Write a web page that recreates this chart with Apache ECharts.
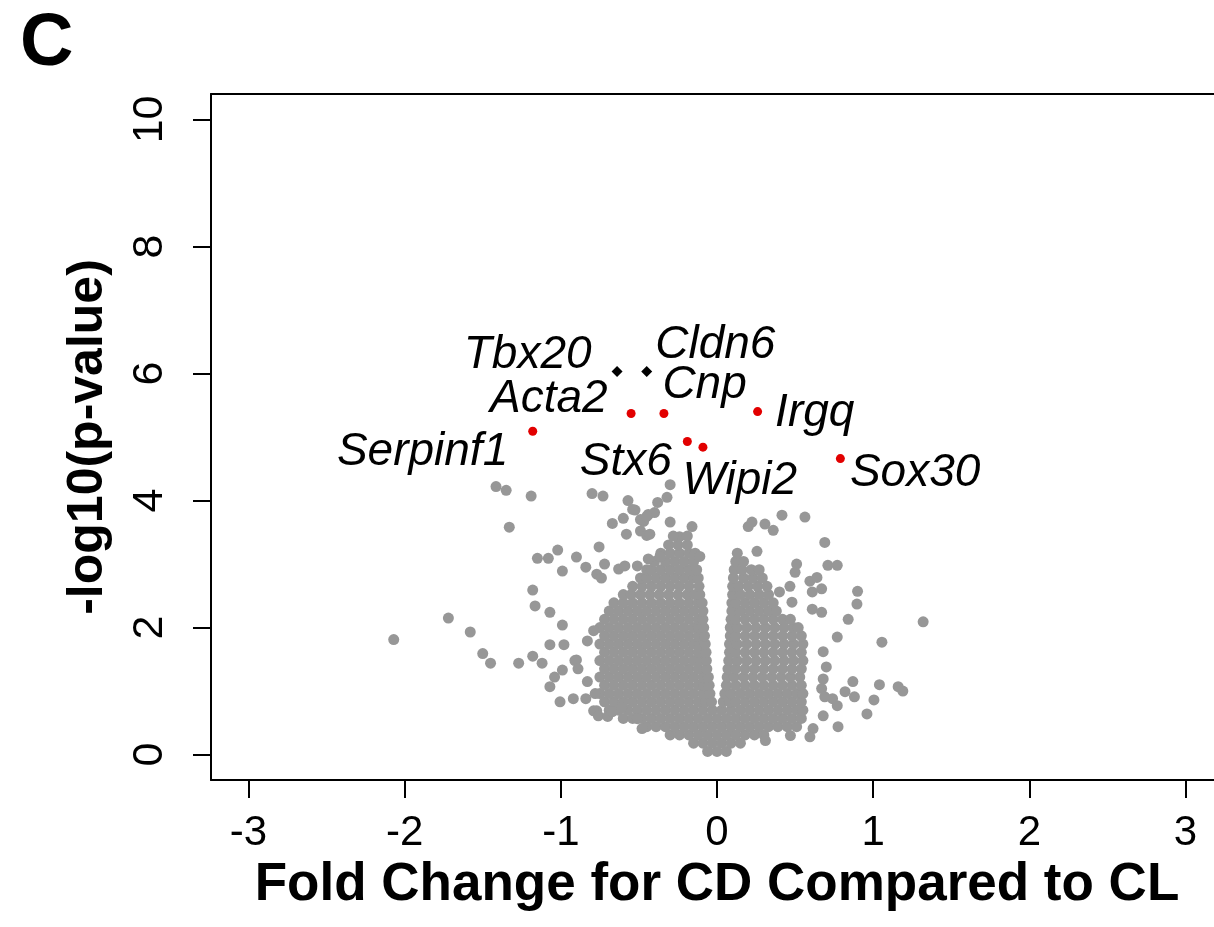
<!DOCTYPE html>
<html>
<head>
<meta charset="utf-8">
<script src="https://cdn.jsdelivr.net/npm/echarts@6/dist/echarts.min.js"></script>
<style>
html,body{margin:0;padding:0;background:#fff;overflow:hidden;}
#chart{width:1214px;height:927px;}
</style>
</head>
<body>
<div id="chart"></div>
<script>
// ---- tick labels ----
const xTicks = [-3, -2, -1, 0, 1, 2, 3];
const yTicks = [0, 2, 4, 6, 8, 10];

// ---- dense core of the volcano (rows: [-log10 p, [fold changes]]) ----
const coreRows = [
  [0.05, [-0.06, 0, 0.06]],
  [0.18, [-0.15, -0.09, -0.03, 0.03, 0.09, 0.15]],
  [0.31, [-0.30, -0.24, -0.18, -0.12, -0.06, 0, 0.06, 0.12, 0.18, 0.24, 0.30]],
  [0.44, [-0.45, -0.39, -0.33, -0.27, -0.21, -0.15, -0.09, -0.03, 0.03, 0.09, 0.15, 0.21, 0.27, 0.33, 0.39, 0.45, 0.51]],
  [0.57, [-0.60, -0.54, -0.48, -0.42, -0.36, -0.30, -0.24, -0.18, -0.12, -0.06, 0, 0.06, 0.12, 0.18, 0.24, 0.30, 0.36, 0.42, 0.48, 0.54]],
  [0.70, [-0.69, -0.63, -0.57, -0.51, -0.45, -0.39, -0.33, -0.27, -0.21, -0.15, -0.09, -0.03, 0.03, 0.09, 0.15, 0.21, 0.27, 0.33, 0.39, 0.45, 0.51, 0.55]],
  [0.83, [-0.72, -0.66, -0.60, -0.54, -0.48, -0.42, -0.36, -0.30, -0.24, -0.18, -0.12, -0.07, -0.035, 0.04, 0.08, 0.12, 0.18, 0.24, 0.30, 0.36, 0.42, 0.48, 0.54]],
  [0.96, [-0.75, -0.69, -0.63, -0.57, -0.51, -0.45, -0.39, -0.33, -0.27, -0.21, -0.15, -0.09, -0.045, 0.05, 0.09, 0.15, 0.21, 0.27, 0.33, 0.39, 0.45, 0.51, 0.55]],
  [1.09, [-0.72, -0.66, -0.60, -0.54, -0.48, -0.42, -0.36, -0.30, -0.24, -0.18, -0.12, -0.085, -0.05, 0.06, 0.12, 0.18, 0.24, 0.30, 0.36, 0.42, 0.48, 0.54]],
  [1.22, [-0.75, -0.69, -0.63, -0.57, -0.51, -0.45, -0.39, -0.33, -0.27, -0.21, -0.15, -0.09, -0.055, 0.065, 0.11, 0.17, 0.23, 0.29, 0.35, 0.41, 0.47, 0.53]],
  [1.35, [-0.72, -0.66, -0.60, -0.54, -0.48, -0.42, -0.36, -0.30, -0.24, -0.18, -0.12, -0.065, 0.07, 0.12, 0.18, 0.24, 0.30, 0.36, 0.42, 0.48, 0.54]],
  [1.48, [-0.75, -0.69, -0.63, -0.57, -0.51, -0.45, -0.39, -0.33, -0.27, -0.21, -0.15, -0.105, -0.068, 0.075, 0.13, 0.19, 0.25, 0.31, 0.37, 0.43, 0.49, 0.55]],
  [1.61, [-0.72, -0.66, -0.60, -0.54, -0.48, -0.42, -0.36, -0.30, -0.24, -0.18, -0.12, -0.07, 0.08, 0.12, 0.18, 0.24, 0.30, 0.36, 0.42, 0.48, 0.54]],
  [1.74, [-0.75, -0.69, -0.63, -0.57, -0.51, -0.45, -0.39, -0.33, -0.27, -0.21, -0.15, -0.11, -0.075, 0.08, 0.13, 0.19, 0.25, 0.31, 0.37, 0.43, 0.49, 0.55]],
  [1.87, [-0.72, -0.66, -0.60, -0.54, -0.48, -0.42, -0.36, -0.30, -0.24, -0.18, -0.12, -0.08, 0.085, 0.12, 0.18, 0.24, 0.30, 0.36, 0.42, 0.48, 0.54]],
  [2.00, [-0.75, -0.69, -0.63, -0.57, -0.51, -0.45, -0.39, -0.33, -0.27, -0.21, -0.15, -0.12, -0.085, 0.085, 0.13, 0.19, 0.25, 0.31, 0.37, 0.43, 0.49, 0.52]],
  [2.13, [-0.72, -0.66, -0.60, -0.54, -0.48, -0.42, -0.36, -0.30, -0.24, -0.18, -0.12, -0.09, 0.09, 0.12, 0.18, 0.24, 0.30, 0.36, 0.42, 0.47]],
  [2.26, [-0.69, -0.63, -0.57, -0.51, -0.45, -0.39, -0.33, -0.27, -0.21, -0.15, -0.09, 0.095, 0.15, 0.21, 0.27, 0.33, 0.38]],
  [2.39, [-0.66, -0.60, -0.54, -0.48, -0.42, -0.36, -0.30, -0.24, -0.18, -0.12, -0.095, 0.095, 0.12, 0.18, 0.24, 0.30, 0.36]],
  [2.52, [-0.60, -0.55, -0.49, -0.43, -0.37, -0.31, -0.25, -0.19, -0.14, -0.11, 0.10, 0.15, 0.21, 0.27, 0.33]],
  [2.65, [-0.54, -0.48, -0.42, -0.36, -0.30, -0.24, -0.18, -0.115, 0.10, 0.14, 0.20, 0.26, 0.32]],
  [2.78, [-0.49, -0.45, -0.39, -0.33, -0.27, -0.21, -0.15, -0.12, 0.105, 0.17, 0.23, 0.29]],
  [2.91, [-0.45, -0.42, -0.36, -0.30, -0.24, -0.18, -0.13, 0.11, 0.16, 0.22, 0.27]],
  [3.04, [-0.40, -0.33, -0.27, -0.21, -0.15, 0.12, 0.17]],
  [3.17, [-0.36, -0.30, -0.24, -0.18, -0.14, 0.13]],
  [3.30, [-0.31, -0.25, -0.19]],
  [3.43, [-0.24]]
];

// ---- scattered non-significant genes [fold change, -log10 p] ----
const scatterLeft = [
  [-1.415, 4.22], [-1.35, 4.16], [-1.19, 4.07], [-1.33, 3.58], [-0.80, 4.11], [-0.73, 4.07],
  [-0.57, 4.00], [-0.67, 3.64], [-0.60, 3.72], [-0.58, 3.47], [-0.755, 3.27], [-1.15, 3.09],
  [-1.08, 3.09], [-1.02, 3.22], [-0.99, 2.89], [-0.90, 3.11], [-0.84, 2.95], [-0.72, 3.00],
  [-0.77, 2.84], [-0.74, 2.78], [-0.63, 2.92], [-0.59, 2.97], [-1.18, 2.59], [-1.165, 2.34],
  [-1.07, 2.24], [-0.99, 2.04], [-1.72, 2.15], [-1.58, 1.93], [-2.07, 1.81], [-1.07, 1.73],
  [-0.98, 1.73], [-1.50, 1.59], [-1.45, 1.44], [-1.27, 1.44], [-1.18, 1.55], [-1.12, 1.44],
  [-0.90, 1.49], [-0.99, 1.33], [-1.04, 1.22], [-1.07, 1.07], [-1.005, 0.83], [-0.92, 0.88],
  [-0.84, 0.88], [-0.77, 0.69], [-0.38, 3.97], [-0.32, 4.05], [-0.30, 4.25], [-0.525, 3.85],
  [-0.47, 3.67], [-0.44, 3.78], [-0.40, 3.81], [-0.49, 3.52], [-0.45, 3.45], [-0.30, 3.66],
  [-0.16, 3.59], [-0.51, 2.97], [-0.44, 3.08], [-0.365, 3.12], [-0.11, 3.12], [-0.28, 3.44],
  [-0.19, 3.44], [-0.54, 3.86], [-0.43, 3.47], [-0.49, 3.70], [-0.45, 3.75],
  [-0.79, 1.95], [-0.83, 1.79], [-0.91, 1.48], [-0.89, 1.35], [-0.83, 1.15], [-0.78, 0.96],
  [-0.79, 0.69], [-0.76, 0.61], [-0.70, 0.60], [-0.67, 0.675], [-0.61, 0.74], [-0.51, 0.565],
  [-0.48, 0.41]
];
const scatterRight = [
  [0.20, 3.59], [0.224, 3.66], [0.307, 3.63], [0.36, 3.53], [0.416, 3.77], [0.563, 3.74],
  [0.69, 3.34], [0.256, 3.20], [0.51, 3.00], [0.50, 2.87], [0.71, 2.98], [0.77, 2.98],
  [0.595, 2.73], [0.64, 2.79], [0.467, 2.65], [0.40, 2.56], [0.67, 2.61], [0.61, 2.56],
  [0.90, 2.57], [0.896, 2.37], [0.84, 2.13], [0.48, 2.40], [0.61, 2.29], [0.67, 2.24],
  [1.32, 2.09], [1.056, 1.77], [0.77, 1.85], [0.68, 1.62], [0.70, 1.38], [0.68, 1.19],
  [0.67, 1.04], [0.87, 1.15], [1.04, 1.10], [1.19, 1.00], [1.16, 1.07], [0.82, 0.99],
  [0.88, 0.91], [1.005, 0.86], [0.96, 0.64], [0.775, 0.44], [0.69, 0.91], [0.74, 0.88],
  [0.77, 0.77], [0.68, 0.61], [0.615, 0.41], [0.47, 0.30], [0.595, 0.28], [0.31, 0.22]
];

// ---- highlighted genes ----
const redGenes = ['Acta2', 'Cnp', 'Serpinf1', 'Stx6', 'Wipi2', 'Irgq', 'Sox30'];
const redFC    = [-0.55, -0.34, -1.18, -0.19, -0.09, 0.26, 0.79];
const redP     = [5.37, 5.37, 5.09, 4.93, 4.84, 5.40, 4.66];
const blackGenes = ['Tbx20', 'Cldn6'];
const blackFC    = [-0.64, -0.45];
const blackP     = [6.03, 6.03];

// ---- label placement (style only) ----
const labelPlace = {
  Tbx20:    { position: 'left',  distance: 20, offset: [0, -16] },
  Cldn6:    { position: 'right', distance: 3,  offset: [0, -26] },
  Acta2:    { position: 'left',  distance: 19, offset: [0, -14] },
  Cnp:      { position: 'right', distance: 5,  offset: [-11, -28] },
  Serpinf1: { position: 'left',  distance: 20, offset: [0, 21] },
  Stx6:     { position: 'left',  distance: 11, offset: [0, 21] },
  Wipi2:    { position: 'right', distance: 5,  offset: [-30, 34] },
  Irgq:     { position: 'right', distance: 13, offset: [0, 2] },
  Sox30:    { position: 'right', distance: 5,  offset: [0, 15] }
};

const FONT = '"Liberation Sans", Arial, Helvetica, sans-serif';

const greyData = [];
coreRows.forEach(function (row) {
  row[1].forEach(function (x) { greyData.push([x, row[0]]); });
});
scatterLeft.forEach(function (p) { greyData.push(p); });
scatterRight.forEach(function (p) { greyData.push(p); });

const geneLabel = {
  show: true,
  formatter: '{b}',
  color: '#000',
  opacity: 1,
  fontFamily: FONT,
  fontStyle: 'italic',
  fontSize: 46
};

function geneItems(names, fc, p) {
  return names.map(function (n, i) {
    const pl = labelPlace[n];
    return {
      name: n,
      value: [fc[i], p[i]],
      label: Object.assign({}, geneLabel, { position: pl.position, distance: pl.distance, offset: pl.offset })
    };
  });
}

const chart = echarts.init(document.getElementById('chart'), null, { renderer: 'canvas' });
chart.setOption({
  animation: false,
  backgroundColor: '#ffffff',
  title: {
    text: 'C', left: 15, top: 3,
    textStyle: { fontSize: 74, fontWeight: 'bold', fontFamily: FONT, color: '#000' }
  },
  grid: {
    left: 211, top: 94, width: 1012, height: 686,
    containLabel: false, outerBoundsMode: 'none', show: false
  },
  xAxis: [
    {
      type: 'value', min: -3.24, max: 3.24, position: 'bottom',
      name: 'Fold Change for CD Compared to CL',
      nameLocation: 'middle', nameGap: 70,
      nameTextStyle: { fontSize: 53, fontWeight: 'bold', fontFamily: FONT, color: '#000' },
      axisLine: { show: true, onZero: false, lineStyle: { color: '#000', width: 2 } },
      axisTick: { show: true, customValues: xTicks, length: 18, lineStyle: { color: '#000', width: 2 } },
      axisLabel: { customValues: xTicks, fontSize: 42, margin: 32, color: '#000', fontFamily: FONT },
      splitLine: { show: false }
    },
    {
      type: 'value', min: -3.24, max: 3.24, position: 'top',
      axisLine: { show: true, onZero: false, lineStyle: { color: '#000', width: 2 } },
      axisTick: { show: false }, axisLabel: { show: false }, splitLine: { show: false }
    }
  ],
  yAxis: {
    type: 'value', min: -0.4, max: 10.4, position: 'left',
    name: '-log10(p-value)',
    nameLocation: 'middle', nameGap: 98, nameRotate: 90,
    nameTextStyle: { fontSize: 50, fontWeight: 'bold', fontFamily: FONT, color: '#000' },
    axisLine: { show: true, onZero: false, lineStyle: { color: '#000', width: 2 } },
    axisTick: { show: true, customValues: yTicks, length: 18, lineStyle: { color: '#000', width: 2 } },
    axisLabel: { customValues: yTicks, fontSize: 43, margin: 39, rotate: 90, color: '#000', fontFamily: FONT },
    splitLine: { show: false }
  },
  series: [
    {
      type: 'scatter', data: greyData, symbol: 'circle', symbolSize: 11,
      itemStyle: { color: '#979797', opacity: 1 }, silent: true, z: 2
    },
    {
      type: 'scatter', data: geneItems(redGenes, redFC, redP), symbol: 'circle', symbolSize: 9,
      itemStyle: { color: '#e20000', opacity: 1 }, label: geneLabel, silent: true, z: 3
    },
    {
      type: 'scatter', data: geneItems(blackGenes, blackFC, blackP), symbol: 'diamond', symbolSize: 11,
      itemStyle: { color: '#000', opacity: 1 }, label: geneLabel, silent: true, z: 3
    }
  ]
});
</script>
</body>
</html>
